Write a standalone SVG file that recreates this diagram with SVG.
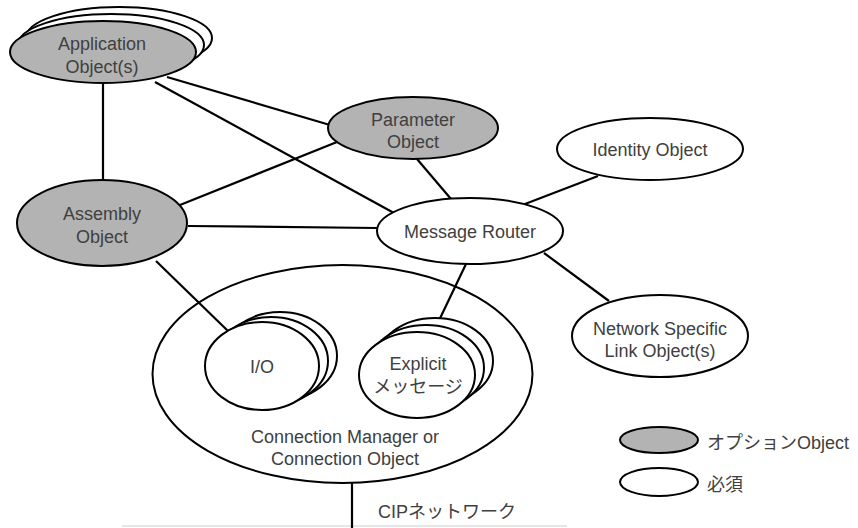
<svg xmlns="http://www.w3.org/2000/svg" width="858" height="528" viewBox="0 0 858 528">
<style>
.opt{fill:#b3b3b3;stroke:#000;stroke-width:2}
.req{fill:#fff;stroke:#000;stroke-width:2}
.ln{stroke:#000;stroke-width:2.2;fill:none}
text{font-family:"Liberation Sans","Noto Sans CJK JP",sans-serif;font-size:18px;fill:#404040;text-anchor:middle}
.l{text-anchor:start}
</style>
<rect width="858" height="528" fill="#fff"/>
<line x1="122" y1="526" x2="567" y2="526" stroke="#e6e6e6" stroke-width="2"/>
<g id="connection-manager">
<ellipse class="req" cx="342.5" cy="374" rx="190" ry="109"/>
<text x="345" y="443">Connection Manager or</text>
<text x="345" y="465">Connection Object</text>
</g>
<g id="connectors">
<line class="ln" x1="103" y1="83" x2="103" y2="180"/>
<line class="ln" x1="167" y1="77" x2="330" y2="125"/>
<line class="ln" x1="155" y1="82" x2="394" y2="213"/>
<line class="ln" x1="180" y1="205" x2="337" y2="142"/>
<line class="ln" x1="188" y1="226" x2="377" y2="228"/>
<line class="ln" x1="417" y1="159" x2="451" y2="199"/>
<line class="ln" x1="525" y1="204" x2="598" y2="176"/>
<line class="ln" x1="544" y1="253" x2="609" y2="301"/>
<line class="ln" x1="466" y1="264" x2="433" y2="333"/>
<line class="ln" x1="156" y1="261" x2="228" y2="331"/>
<line class="ln" x1="352" y1="483" x2="352" y2="528"/>
</g>
<g id="application-object">
<ellipse class="req" cx="119" cy="38" rx="93" ry="31"/>
<ellipse class="req" cx="111" cy="45" rx="93" ry="31"/>
<ellipse class="opt" cx="103" cy="52" rx="93" ry="31"/>
<text x="102" y="50">Application</text>
<text x="102" y="73">Object(s)</text>
</g>
<g id="assembly-object">
<ellipse class="opt" cx="102" cy="223" rx="85" ry="43"/>
<text x="102" y="220">Assembly</text>
<text x="102" y="243">Object</text>
</g>
<g id="parameter-object">
<ellipse class="opt" cx="413" cy="128" rx="85" ry="31"/>
<text x="413" y="126">Parameter</text>
<text x="413" y="148">Object</text>
</g>
<g id="message-router">
<ellipse class="req" cx="470" cy="231" rx="93" ry="33"/>
<text x="470" y="238">Message Router</text>
</g>
<g id="identity-object">
<ellipse class="req" cx="650" cy="149" rx="93" ry="31"/>
<text x="650" y="156">Identity Object</text>
</g>
<g id="network-link-object">
<ellipse class="req" cx="660" cy="336" rx="88" ry="41"/>
<text x="660" y="335">Network Specific</text>
<text x="660" y="357">Link Object(s)</text>
</g>
<g id="io">
<ellipse class="req" cx="280" cy="356" rx="57" ry="44"/>
<ellipse class="req" cx="271" cy="361" rx="57" ry="44"/>
<ellipse class="req" cx="262" cy="366" rx="57" ry="44"/>
<text x="262" y="373">I/O</text>
</g>
<g id="explicit">
<ellipse class="req" cx="435" cy="361" rx="58" ry="43"/>
<ellipse class="req" cx="426" cy="368" rx="58" ry="43"/>
<ellipse class="req" cx="417" cy="375" rx="58" ry="43"/>
<text x="418" y="370">Explicit</text>
<text x="418" y="393">メッセージ</text>
</g>
<g id="network-label">
<text class="l" x="378" y="518">CIPネットワーク</text>
</g>
<g id="legend">
<ellipse class="opt" cx="659" cy="440" rx="39" ry="13"/>
<text class="l" x="707" y="449">オプションObject</text>
<ellipse class="req" cx="659" cy="482" rx="39" ry="14"/>
<text class="l" x="707" y="491">必須</text>
</g>
</svg>
